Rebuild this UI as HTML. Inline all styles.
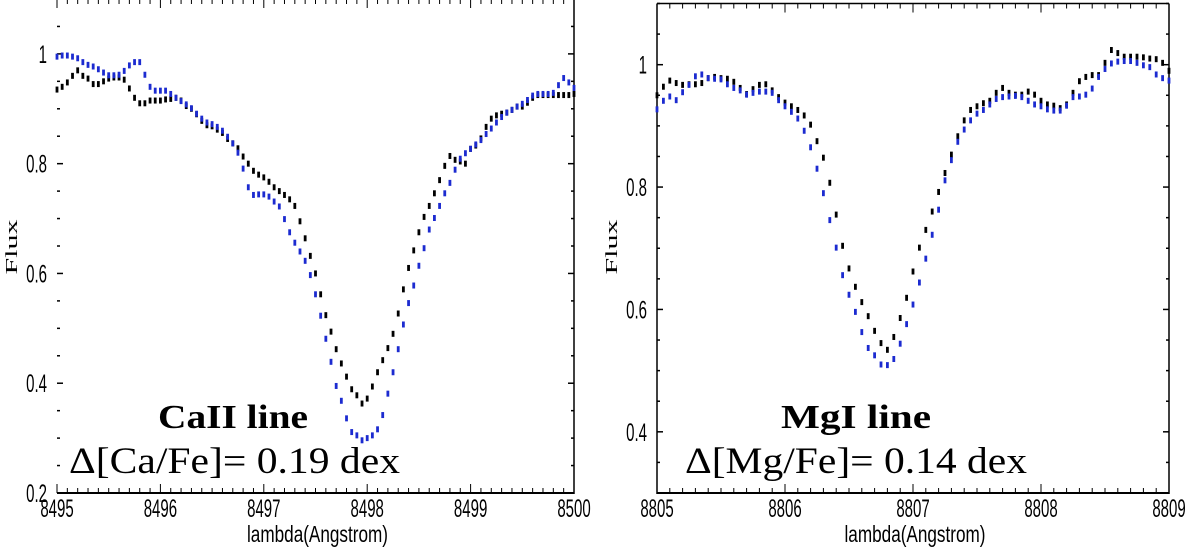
<!DOCTYPE html>
<html><head><meta charset="utf-8"><style>
html,body{margin:0;padding:0;background:#fff;width:1200px;height:555px;overflow:hidden}
svg{display:block}
</style></head><body>
<svg id="fig" width="1200" height="555" viewBox="0 0 1200 555" xmlns="http://www.w3.org/2000/svg"></svg>
<script>
// ---- Left panel data (CaII) ----
const caStart = 8495, caStep = 0.05;
const caBlack = [0.935,0.94,0.948,0.96,0.97,0.96,0.955,0.945,0.945,0.95,
0.955,0.957,0.957,0.953,0.937,0.92,0.91,0.91,0.915,0.915,
0.915,0.917,0.918,0.92,0.915,0.905,0.9,0.89,0.878,0.87,
0.868,0.862,0.856,0.845,0.837,0.828,0.813,0.8,0.787,0.78,
0.775,0.767,0.757,0.75,0.743,0.735,0.723,0.695,0.664,0.632,
0.6,0.562,0.524,0.494,0.462,0.436,0.412,0.389,0.378,0.363,
0.372,0.394,0.42,0.442,0.464,0.49,0.527,0.571,0.61,0.642,
0.675,0.703,0.723,0.746,0.77,0.796,0.814,0.807,0.804,0.8,
0.827,0.833,0.846,0.867,0.882,0.888,0.891,0.893,0.898,0.904,
0.904,0.911,0.92,0.925,0.925,0.925,0.925,0.925,0.925,0.925,0.927];
const caBlue = [0.995,0.997,0.997,0.995,0.992,0.985,0.98,0.977,0.972,0.966,
0.961,0.961,0.962,0.969,0.979,0.985,0.985,0.962,0.94,0.933,
0.933,0.933,0.927,0.92,0.914,0.908,0.901,0.891,0.882,0.875,
0.872,0.867,0.86,0.849,0.837,0.82,0.791,0.757,0.743,0.744,
0.744,0.74,0.731,0.722,0.699,0.675,0.656,0.64,0.623,0.597,
0.562,0.523,0.481,0.439,0.395,0.368,0.336,0.311,0.305,0.296,
0.3,0.305,0.316,0.342,0.381,0.42,0.462,0.507,0.546,0.578,
0.614,0.646,0.68,0.701,0.723,0.746,0.765,0.789,0.809,0.819,
0.827,0.835,0.843,0.854,0.864,0.875,0.885,0.893,0.898,0.904,
0.909,0.916,0.924,0.927,0.927,0.927,0.929,0.943,0.956,0.948,0.938];
const caXTicks = [8495,8496,8497,8498,8499,8500];
const caYTicks = [0.2,0.4,0.6,0.8,1];
const caYLabels = ["0.2","0.4","0.6","0.8","1"];

// ---- Right panel data (MgI) ----
const mgStart = 8805, mgStep = 0.05;
const mgBlack = [0.95,0.964,0.974,0.97,0.967,0.968,0.968,0.97,0.978,0.98,
0.978,0.977,0.972,0.962,0.952,0.96,0.967,0.968,0.958,0.947,
0.938,0.932,0.926,0.917,0.902,0.875,0.848,0.807,0.755,0.704,
0.667,0.637,0.612,0.589,0.565,0.545,0.534,0.555,0.586,0.619,
0.662,0.701,0.73,0.76,0.792,0.823,0.853,0.883,0.909,0.926,
0.932,0.937,0.941,0.954,0.962,0.954,0.951,0.951,0.956,0.951,
0.941,0.935,0.933,0.929,0.935,0.954,0.973,0.98,0.983,0.983,
1.003,1.024,1.019,1.013,1.013,1.013,1.012,1.01,1.009,1.003,0.99];
const mgBlue = [0.927,0.941,0.948,0.942,0.955,0.967,0.981,0.984,0.978,0.977,
0.976,0.968,0.962,0.958,0.951,0.954,0.956,0.956,0.954,0.942,
0.932,0.923,0.912,0.892,0.865,0.83,0.79,0.746,0.701,0.656,
0.624,0.596,0.563,0.537,0.525,0.51,0.509,0.519,0.544,0.576,
0.608,0.644,0.683,0.722,0.763,0.811,0.844,0.874,0.894,0.909,
0.92,0.926,0.935,0.944,0.947,0.948,0.949,0.947,0.941,0.935,
0.932,0.927,0.925,0.925,0.933,0.947,0.948,0.951,0.961,0.98,
0.993,1.002,1.005,1.006,1.006,1.003,0.999,0.996,0.984,0.978,0.974];
const mgXTicks = [8805,8806,8807,8808,8809];
const mgYTicks = [0.4,0.6,0.8,1];
const mgYLabels = ["0.4","0.6","0.8","1"];

const NS = "http://www.w3.org/2000/svg";
const svg = document.getElementById('fig');
function el(tag, attrs, parent){
  const e = document.createElementNS(NS, tag);
  for (const k in attrs) e.setAttribute(k, attrs[k]);
  (parent||svg).appendChild(e);
  return e;
}
function lin(d0,d1,r0,r1){ return v => r0 + (v-d0)*(r1-r0)/(d1-d0); }
const TF = 'Liberation Sans Narrow, Liberation Sans, sans-serif';

function panel(cfg){
  const g = el('g', {});
  
  
  const xs = lin(cfg.xmin, cfg.xmax, cfg.L, cfg.R);
  const ys = lin(cfg.ymin, cfg.ymax, cfg.B, cfg.T);
  const bottom = el('line', {x1:cfg.L, y1:cfg.B, x2:cfg.R, y2:cfg.B, stroke:'#000', 'stroke-width':2}, g);
  
  
  const right = el('line', {x1:cfg.R, y1:cfg.T, x2:cfg.R, y2:cfg.B+1, stroke:'#000', 'stroke-width':1.5}, g);
  
  
  if (cfg.fullFrame){
    const left = el('line', {x1:cfg.L, y1:cfg.T, x2:cfg.L, y2:cfg.B+1, stroke:'#000', 'stroke-width':1.5}, g);
    
    
    const top = el('line', {x1:cfg.L, y1:cfg.T, x2:cfg.R, y2:cfg.T, stroke:'#000', 'stroke-width':1.5}, g);
    
    
  }
  const nMin = Math.round((cfg.xmax-cfg.xmin)/0.1);
  for (let i=0;i<=nMin;i++){
    const v = cfg.xmin + i*0.1, x = xs(v);
    const major = (i%10===0);
    const len = major?9:5;
    const t1 = el('line', {x1:x, y1:cfg.B, x2:x, y2:cfg.B-len, stroke:'#000', 'stroke-width':1}, g);
    
    
    const t2 = el('line', {x1:x, y1:cfg.T, x2:x, y2:cfg.T+len, stroke:'#000', 'stroke-width':1}, g);
    
    
  }
  cfg.xTicks.forEach(v=>{
    const x = xs(v);
    const t = el('text', {x:0, y:0, 'text-anchor':'middle', 'font-family':TF, 'font-size':25, transform:`translate(${x},517) scale(0.6,1)`}, g);
    t.textContent = String(v);
    
    
  });
  const nY = Math.round((cfg.ymax-cfg.ymin)/0.05);
  for (let i=0;i<=nY;i++){
    const v = cfg.ymin + i*0.05, y = ys(v);
    const major = Math.abs(v*10 - Math.round(v*10))<1e-6 && Math.round(v*10)%2===0;
    const len = major?6:3;
    const t1 = el('line', {x1:cfg.L, y1:y, x2:cfg.L+len, y2:y, stroke:'#000', 'stroke-width':1.5}, g);
    
    
    const t2 = el('line', {x1:cfg.R, y1:y, x2:cfg.R-len, y2:y, stroke:'#000', 'stroke-width':1.5}, g);
    
    
  }
  cfg.yTicks.forEach((v,i)=>{
    const x = cfg.L-10;
    const t = el('text', {x:0, y:0, 'text-anchor':'end', 'font-family':TF, 'font-size':25, transform:`translate(${x},${ys(v)+9}) scale(0.6,1)`}, g);
    t.textContent = cfg.yLabels[i];
    
    
  });
  const xt = el('text', {x:(cfg.L+cfg.R)/2+2, y:542, 'text-anchor':'middle', 'font-family':TF, 'font-size':23, textLength:141, lengthAdjust:'spacingAndGlyphs'}, g);
  xt.textContent = 'lambda(Angstrom)';
  
  
  const ytx = cfg.L-40;
  const yt = el('text', {x:0, y:0, 'text-anchor':'middle', 'font-family':'Liberation Serif, serif', 'font-size':17, transform:`translate(${ytx},247) rotate(-90)`, textLength:55, lengthAdjust:'spacingAndGlyphs'}, g);
  yt.textContent = 'Flux';
  
  
  [[cfg.black,'#000','black-series'],[cfg.blue,'#1c2bd0','blue-series']].forEach(([arr,col,nm])=>{
    const sg = el('g', {fill:col}, g);
    
    
    arr.forEach((v,i)=>{
      const x = xs(cfg.start + i*cfg.step), y = ys(v);
      if (x < cfg.L-2 || x > cfg.R+2) return;
      const r = el('rect', {x:x-1.4, y:y-3, width:2.8, height:6}, sg);
      
      
    });
  });
  const a1 = el('text', {x:cfg.t1x, y:428, 'font-family':'Liberation Serif, serif', 'font-weight':'bold', 'font-size':34, textLength:cfg.t1w, lengthAdjust:'spacingAndGlyphs'}, g);
  a1.textContent = cfg.t1;
  
  
  const a2 = el('text', {x:cfg.t2x, y:473, 'font-family':'Liberation Serif, serif', 'font-size':37, textLength:cfg.t2w, lengthAdjust:'spacingAndGlyphs'}, g);
  a2.textContent = cfg.t2;
  
  
}

panel({name:'cai-panel', L:57, R:574, T:-1, B:493, xmin:8495, xmax:8500, ymin:0.2, ymax:1.1,
  start:caStart, step:caStep, black:caBlack, blue:caBlue, xTicks:caXTicks, yTicks:caYTicks, yLabels:caYLabels,
  fullFrame:false, t1:'CaII line', t1x:158, t1w:150, t2:'\u0394[Ca/Fe]= 0.19 dex', t2x:69, t2w:331});
panel({name:'mgi-panel', L:657, R:1169, T:3.5, B:493, xmin:8805, xmax:8809, ymin:0.3, ymax:1.1,
  start:mgStart, step:mgStep, black:mgBlack, blue:mgBlue, xTicks:mgXTicks, yTicks:mgYTicks, yLabels:mgYLabels,
  fullFrame:true, t1:'MgI line', t1x:781, t1w:150, t2:'\u0394[Mg/Fe]= 0.14 dex', t2x:685, t2w:342});
</script>
</body></html>
